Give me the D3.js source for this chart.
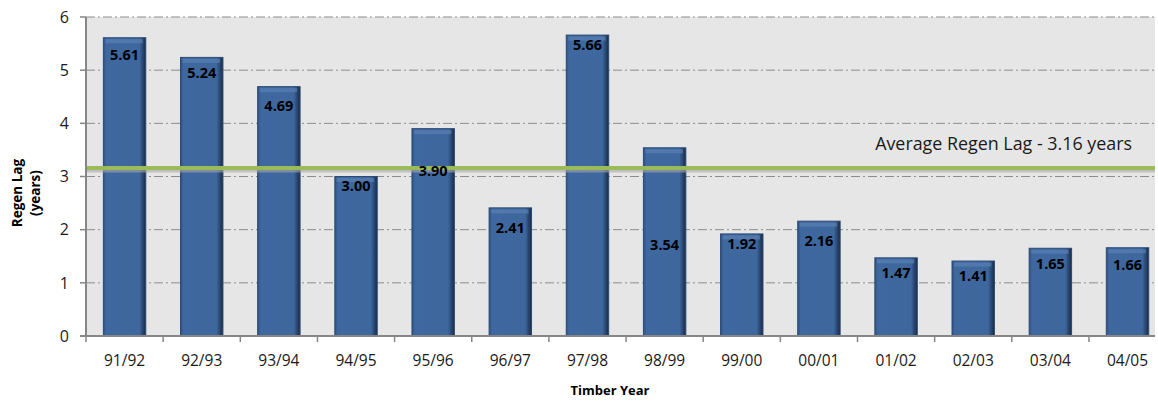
<!DOCTYPE html>
<html>
<head>
<meta charset="utf-8">
<script src="https://cdn.jsdelivr.net/npm/d3@7"></script>
<style>
  body { margin: 0; background: #fff; }
  svg { font-family: "Open Sans", sans-serif; }
</style>
</head>
<body>
<svg></svg>
<script>
// chart data
var years = ['91/92', '92/93', '93/94', '94/95', '95/96', '96/97', '97/98',
  '98/99', '99/00', '00/01', '01/02', '02/03', '03/04', '04/05'];
var regenLag = [5.61, 5.24, 4.69, 3.00, 3.90, 2.41, 5.66, 3.54, 1.92, 2.16, 1.47, 1.41, 1.65, 1.66];
var avgLag = 3.16;
var yTicks = [0, 1, 2, 3, 4, 5, 6];

// layout: label offset (px below bar top) - some labels were moved by hand in the original
var labelOffset = [22, 21, 24, 14, 47, 25, 15, 102, 15, 25, 20, 20, 21, 22];

var canvasWidth = 1158;
var canvasHeight = 401;
var plotLeft = 86, plotRight = 1155, plotTop = 17, plotBottom = 336;

var svg = d3.select('svg')
  .attr('width', canvasWidth)
  .attr('height', canvasHeight);

var xScale = d3.scaleBand().domain(years).range([plotLeft, plotLeft + 14 * 77.15])
  .paddingInner(0.45).paddingOuter(0.225);
var yScale = d3.scaleLinear().domain([0, 6]).range([plotBottom, plotTop]);

var defs = svg.append('defs');
var grad = defs.append('linearGradient').attr('id', 'barGrad')
  .attr('x1', 0).attr('x2', 1).attr('y1', 0).attr('y2', 0);
grad.append('stop').attr('offset', '0%').attr('stop-color', '#2e5283');
grad.append('stop').attr('offset', '7%').attr('stop-color', '#3f68a0');
grad.append('stop').attr('offset', '85%').attr('stop-color', '#3d679d');
grad.append('stop').attr('offset', '94%').attr('stop-color', '#27426a');
grad.append('stop').attr('offset', '100%').attr('stop-color', '#182a44');

// plot background
svg.append('rect')
  .attr('x', plotLeft).attr('y', plotTop)
  .attr('width', plotRight - plotLeft).attr('height', plotBottom - plotTop)
  .style('fill', '#e6e6e6');

// gridlines
svg.append('g').selectAll('line')
  .data(yTicks.filter(function(d) { return d > 0; }))
  .enter().append('line')
  .attr('x1', plotLeft).attr('x2', plotRight)
  .attr('y1', function(d) { return yScale(d); })
  .attr('y2', function(d) { return yScale(d); })
  .style('stroke', '#8c8c8c')
  .style('stroke-width', 1)
  .style('stroke-dasharray', '9,3,2,3');

// bars
var bars = svg.append('g').selectAll('.bar')
  .data(regenLag)
  .enter().append('g').attr('class', 'bar');

bars.append('rect')
  .attr('x', function(d, i) { return xScale(years[i]); })
  .attr('y', function(d) { return yScale(d); })
  .attr('width', xScale.bandwidth())
  .attr('height', function(d) { return plotBottom - yScale(d); })
  .style('fill', 'url(#barGrad)')
  .style('stroke', '#2c4a74')
  .style('stroke-width', 1);

// top bevel highlight
bars.append('rect')
  .attr('x', function(d, i) { return xScale(years[i]) + 2; })
  .attr('y', function(d) { return yScale(d) + 1.5; })
  .attr('width', xScale.bandwidth() - 5)
  .attr('height', 4)
  .style('fill', '#5a80b3')
  .style('opacity', 0.7);

// average line (drawn over the bars)
svg.append('line')
  .attr('x1', plotLeft).attr('x2', plotRight)
  .attr('y1', yScale(avgLag) + 3).attr('y2', yScale(avgLag) + 3)
  .style('stroke', '#a8a8a8').style('stroke-width', 3).style('opacity', 0.6);
svg.append('line')
  .attr('x1', plotLeft).attr('x2', plotRight)
  .attr('y1', yScale(avgLag)).attr('y2', yScale(avgLag))
  .style('stroke', '#9bbb59').style('stroke-width', 4);
var avgText = svg.append('text')
  .attr('x', 1132).attr('y', yScale(avgLag) - 18)
  .style('text-anchor', 'end')
  .style('font-size', '16px')
  .style('fill', '#1a1a1a')
  .text('Average Regen Lag - ' + avgLag.toFixed(2) + ' years');
var w = avgText.node().getComputedTextLength();
avgText.style('font-size', (16 * 257 / w) + 'px');

// value labels
svg.append('g').selectAll('text')
  .data(regenLag)
  .enter().append('text')
  .attr('x', function(d, i) { return xScale(years[i]) + xScale.bandwidth() / 2; })
  .attr('y', function(d, i) { return yScale(d) + labelOffset[i]; })
  .style('text-anchor', 'middle')
  .style('font-weight', 'bold')
  .style('font-size', '14.5px')
  .style('fill', '#000')
  .text(function(d) { return d.toFixed(2); });

// axes
svg.append('line')
  .attr('x1', plotLeft).attr('x2', plotLeft)
  .attr('y1', plotTop).attr('y2', plotBottom)
  .style('stroke', '#868686').style('stroke-width', 2);
svg.append('line')
  .attr('x1', plotLeft - 6).attr('x2', plotRight)
  .attr('y1', plotBottom).attr('y2', plotBottom)
  .style('stroke', '#868686').style('stroke-width', 2);

var yAxis = svg.append('g');
yAxis.selectAll('line').data(yTicks).enter().append('line')
  .attr('x1', plotLeft - 6).attr('x2', plotLeft)
  .attr('y1', function(d) { return yScale(d); })
  .attr('y2', function(d) { return yScale(d); })
  .style('stroke', '#868686').style('stroke-width', 1.5);
yAxis.selectAll('text').data(yTicks).enter().append('text')
  .attr('x', 69)
  .attr('y', function(d) { return yScale(d); })
  .attr('dy', '0.36em')
  .style('text-anchor', 'end')
  .style('font-size', '16px')
  .style('fill', '#1a1a1a')
  .text(function(d) { return d; });

var step = xScale.step();
var xAxis = svg.append('g');
xAxis.selectAll('line').data(d3.range(years.length + 1)).enter().append('line')
  .attr('x1', function(i) { return plotLeft + i * step; })
  .attr('x2', function(i) { return plotLeft + i * step; })
  .attr('y1', plotBottom).attr('y2', plotBottom + 6)
  .style('stroke', '#868686').style('stroke-width', 1.5);
xAxis.selectAll('text').data(years).enter().append('text')
  .attr('x', function(d) { return xScale(d) + xScale.bandwidth() / 2; })
  .attr('y', 366)
  .style('text-anchor', 'middle')
  .style('font-size', '15.5px')
  .style('fill', '#1a1a1a')
  .text(function(d) { return d; });

// axis titles
svg.append('text')
  .attr('x', 610).attr('y', 395)
  .style('text-anchor', 'middle')
  .style('font-weight', 'bold')
  .style('font-size', '13px')
  .text('Timber Year');

var yTitle = svg.append('text')
  .attr('transform', 'translate(22,193) rotate(-90)')
  .style('text-anchor', 'middle')
  .style('font-weight', 'bold')
  .style('font-size', '13.5px');
yTitle.append('tspan').attr('x', 0).attr('y', 0).text('Regen Lag');
yTitle.append('tspan').attr('x', 0).attr('y', 18).text('(years)');
</script>
</body>
</html>
